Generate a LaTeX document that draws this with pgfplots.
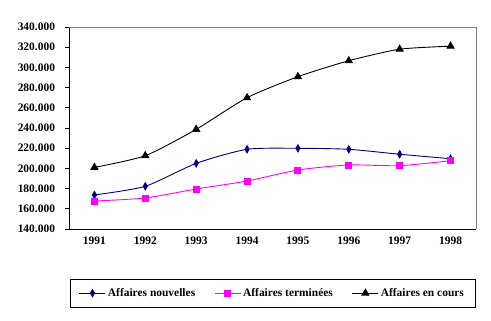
\documentclass[border=0pt]{standalone}
\usepackage{pgfplots}
\pgfplotsset{compat=1.18}
\usepackage{fontspec}
\setmainfont{Liberation Serif}
\definecolor{navyx}{RGB}{0,0,128}
\definecolor{magx}{RGB}{255,0,255}
\begin{document}
\begin{tikzpicture}[font=\bfseries\fontsize{11.5}{13}\selectfont]
\useasboundingbox (0,0) rectangle (491bp,321bp);
\begin{axis}[
  at={(69bp,92bp)}, anchor=south west,
  scale only axis, width=407bp, height=202bp,
  xmin=1990.5, xmax=1998.5,
  ymin=140000, ymax=340000,
  xtick={1991,1992,1993,1994,1995,1996,1997,1998},
  xticklabels={1991,1992,1993,1994,1995,1996,1997,1998},
  extra x ticks={1990.5,1991.5,1992.5,1993.5,1994.5,1995.5,1996.5,1997.5,1998.5},
  extra x tick labels={},
  extra x tick style={tick style={black}},
  x tick style={draw=none},
  major tick length=4.5bp,
  ytick={140000,160000,...,340000},
  scaled y ticks=false,
  yticklabel style={/pgf/number format/.cd, fixed, 1000 sep={.}, assume math mode=true, /tikz/.cd, xshift=-6bp},
  xticklabel style={/pgf/number format/assume math mode=true},
  tick label style={font=\bfseries\fontsize{11.5}{13}\selectfont},
  tick align=outside,
  y tick style={black},
  axis x line*=bottom, axis y line*=left,
  axis line style={-, black, line width=0.8bp},
  every tick/.style={black, line width=0.8bp},
  legend columns=3,
  legend style={at={(0.5,-0.2475)}, anchor=north, draw=black, line width=0.8bp,
    inner xsep=9bp, inner ysep=7bp,
    font=\bfseries\fontsize{11.5}{13}\selectfont,
    /tikz/every even column/.append style={column sep=17bp}},
  legend image code/.code={\draw[mark repeat=2,mark phase=2] plot coordinates {(0bp,0bp) (13bp,0bp) (26bp,0bp)};},
  clip=false,
]
\addplot[navyx, line width=0.9bp, smooth, tension=0.4, mark=diamond*, mark size=3.6bp, mark options={solid, xscale=0.75}]
 coordinates {(1991,173700) (1992,182300) (1993,205000) (1994,218900) (1995,219900) (1996,218900) (1997,214000) (1998,209600)};
\addlegendentry{Affaires nouvelles}
\addplot[magx, line width=0.9bp, smooth, tension=0.4, mark=square*, mark size=3bp, mark options={solid}]
 coordinates {(1991,167700) (1992,170700) (1993,179600) (1994,187500) (1995,198400) (1996,203400) (1997,202700) (1998,207600)};
\addlegendentry{Affaires terminées}
\addplot[black, line width=0.9bp, smooth, tension=0.4, mark=triangle*, mark size=4bp, mark options={solid}]
 coordinates {(1991,201000) (1992,212600) (1993,238700) (1994,270000) (1995,290800) (1996,306600) (1997,318000) (1998,321000)};
\addlegendentry{Affaires en cours}
\draw[gray, line width=0.8bp] (rel axis cs:0,1) -- (rel axis cs:1,1) -- (rel axis cs:1,0);
\end{axis}
\end{tikzpicture}
\end{document}
